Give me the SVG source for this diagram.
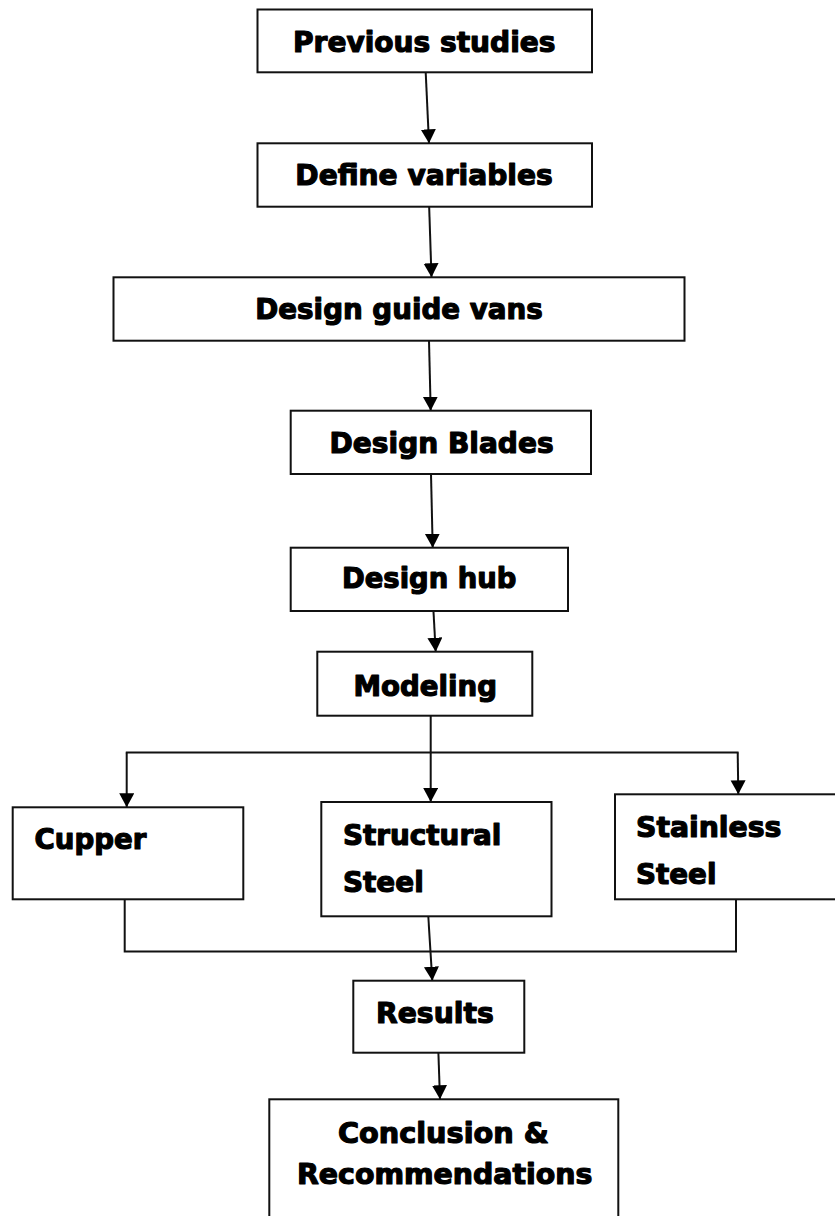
<svg xmlns="http://www.w3.org/2000/svg" width="835" height="1216" viewBox="0 0 835 1216">
<style>
.box{fill:#fff;stroke:#111;stroke-width:2}
.lbl{font-family:"DejaVu Sans","Liberation Sans",sans-serif;font-weight:bold;font-size:28px;fill:#000;stroke:#000;stroke-width:1.2;stroke-linejoin:round}
.con{fill:none;stroke:#111;stroke-width:2}
</style>
<defs>
<marker id="ah" markerUnits="userSpaceOnUse" markerWidth="16" markerHeight="16" refX="14" refY="7.5" orient="auto">
<path d="M0,0 L14,7.5 L0,15 Z" fill="#000"/>
</marker>
</defs>
<rect width="835" height="1216" fill="#fff"/>
<g id="connectors">
<line class="con" x1="425.7" y1="72.3" x2="429" y2="143.3" marker-end="url(#ah)"/>
<line class="con" x1="429" y1="201.7" x2="431.5" y2="277.3" marker-end="url(#ah)"/>
<line class="con" x1="429" y1="340.7" x2="430.7" y2="410.7" marker-end="url(#ah)"/>
<line class="con" x1="431" y1="474" x2="432.7" y2="547.7" marker-end="url(#ah)"/>
<line class="con" x1="433.3" y1="608" x2="435.7" y2="651.7" marker-end="url(#ah)"/>
<line class="con" x1="430.7" y1="715.7" x2="430.7" y2="802" marker-end="url(#ah)"/>
<line class="con" x1="125.8" y1="752.5" x2="738.6" y2="752.5"/>
<line class="con" x1="126.7" y1="752.5" x2="126.7" y2="807.3" marker-end="url(#ah)"/>
<line class="con" x1="737.7" y1="752.5" x2="738.3" y2="794.3" marker-end="url(#ah)"/>
<polyline class="con" points="124.7,899.3 124.7,951.5 736,951.5 736,899.3"/>
<line class="con" x1="428.3" y1="916.3" x2="432.3" y2="980.7" marker-end="url(#ah)"/>
<line class="con" x1="438.3" y1="1050" x2="440" y2="1099.3" marker-end="url(#ah)"/>
</g>
<g id="previous-studies">
<rect class="box" x="257.5" y="9.5" width="334.5" height="62.8"/>
<text class="lbl" x="293" y="51.7" textLength="262.5" lengthAdjust="spacingAndGlyphs">Previous studies</text>
</g>
<g id="define-variables">
<rect class="box" x="257.5" y="143.3" width="334.5" height="63.4"/>
<text class="lbl" x="295.3" y="185" textLength="257.5" lengthAdjust="spacingAndGlyphs">Define variables</text>
</g>
<g id="design-guide-vans">
<rect class="box" x="113.5" y="277.3" width="571" height="63.4"/>
<text class="lbl" x="255.3" y="319.3" textLength="287.5" lengthAdjust="spacingAndGlyphs">Design guide vans</text>
</g>
<g id="design-blades">
<rect class="box" x="290.7" y="410.7" width="300.3" height="63.3"/>
<text class="lbl" x="329.6" y="452.7" textLength="224" lengthAdjust="spacingAndGlyphs">Design Blades</text>
</g>
<g id="design-hub">
<rect class="box" x="290.7" y="547.7" width="277.3" height="63.3"/>
<text class="lbl" x="342" y="588.3" textLength="174.4" lengthAdjust="spacingAndGlyphs">Design hub</text>
</g>
<g id="modeling">
<rect class="box" x="317.3" y="651.7" width="215" height="64"/>
<text class="lbl" x="353.6" y="696" textLength="143.4" lengthAdjust="spacingAndGlyphs">Modeling</text>
</g>
<g id="cupper">
<rect class="box" x="12.7" y="807.3" width="230.6" height="92"/>
<text class="lbl" x="34.6" y="849.3" textLength="111.8" lengthAdjust="spacingAndGlyphs">Cupper</text>
</g>
<g id="structural-steel">
<rect class="box" x="321.3" y="802" width="230.2" height="114.3"/>
<text class="lbl" x="343" y="845" textLength="158.4" lengthAdjust="spacingAndGlyphs">Structural</text>
<text class="lbl" x="343" y="891.7" textLength="80.7" lengthAdjust="spacingAndGlyphs">Steel</text>
</g>
<g id="stainless-steel">
<rect class="box" x="615" y="794.3" width="240" height="105"/>
<text class="lbl" x="636" y="836.7" textLength="145.4" lengthAdjust="spacingAndGlyphs">Stainless</text>
<text class="lbl" x="636" y="884" textLength="80.4" lengthAdjust="spacingAndGlyphs">Steel</text>
</g>
<g id="results">
<rect class="box" x="353.3" y="980.7" width="171" height="72"/>
<text class="lbl" x="376" y="1022.7" textLength="117.7" lengthAdjust="spacingAndGlyphs">Results</text>
</g>
<g id="conclusion">
<rect class="box" x="269.3" y="1099.3" width="349" height="140"/>
<text class="lbl" x="338" y="1142.7" textLength="210.7" lengthAdjust="spacingAndGlyphs">Conclusion &amp;</text>
<text class="lbl" x="297" y="1184.3" textLength="295.4" lengthAdjust="spacingAndGlyphs">Recommendations</text>
</g>
</svg>
